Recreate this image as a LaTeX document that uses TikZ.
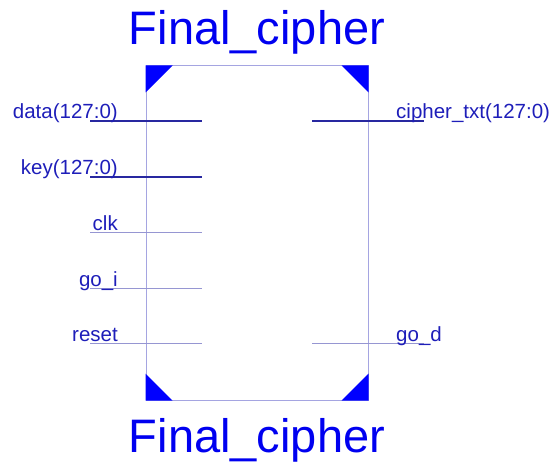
\documentclass[tikz,border=0pt]{standalone}
\usepackage{fontspec}
\setmainfont{Liberation Sans}
\usepackage{tikz}
\usetikzlibrary{positioning,calc}
\definecolor{titleblue}{RGB}{0,0,240}
\definecolor{pinblue}{RGB}{30,30,185}
\definecolor{boxline}{RGB}{165,165,225}
\definecolor{busline}{RGB}{40,40,160}
\definecolor{wireline}{RGB}{150,150,210}
\tikzset{
chip/.style={
draw=boxline,
line width=1pt,
minimum width=222pt,
minimum height=334pt,
inner sep=0pt
},
title/.style={
text=titleblue,
font=\fontsize{47}{52}\selectfont,
inner sep=0pt,
anchor=base
},
pinlabel/.style={
text=pinblue,
font=\fontsize{20.5}{24}\selectfont,
inner sep=0pt
},
bus/.style={
draw=busline,
line width=1.8pt
},
wire/.style={
draw=wireline,
line width=1pt
},
corner/.style={
fill=blue
}
}
\begin{document}
\begin{tikzpicture}[x=1pt,y=-1pt]
\useasboundingbox (0,0) rectangle (553,462);

\node[chip](chip) at (257,233){};
\node[title](top) at (257,45){Final\_cipher};
\node[title](bottom) at (257,452){Final\_cipher};

% corner marks
\fill[corner](chip.north west)--++(27,0)--++(-27,27)--cycle;
\fill[corner](chip.north east)--++(-27,0)--++(27,27)--cycle;
\fill[corner](chip.south west)--++(27,0)--++(-27,-27)--cycle;
\fill[corner](chip.south east)--++(-27,0)--++(27,-27)--cycle;

% inputs
\foreach \n/\y/\s/\t in {data/121/bus/data(127:0),key/177/bus/key(127:0),clk/232/wire/clk,goi/288/wire/go\_i,reset/343/wire/reset}{
\coordinate(\n-o) at (90,\y);
\coordinate(\n-i) at (202,\y);
\draw[\s](\n-o)--(\n-i);
\node[pinlabel,anchor=base east](\n-lbl) at (118,\y-2){\t};
}

% outputs
\foreach \n/\y/\s/\t in {ctxt/121/bus/cipher\_txt(127:0),god/343/wire/go\_d}{
\coordinate(\n-i) at (312,\y);
\coordinate(\n-o) at (424,\y);
\draw[\s](\n-i)--(\n-o);
\node[pinlabel,anchor=base west](\n-lbl) at (396,\y-2){\t};
}
\end{tikzpicture}
\end{document}
